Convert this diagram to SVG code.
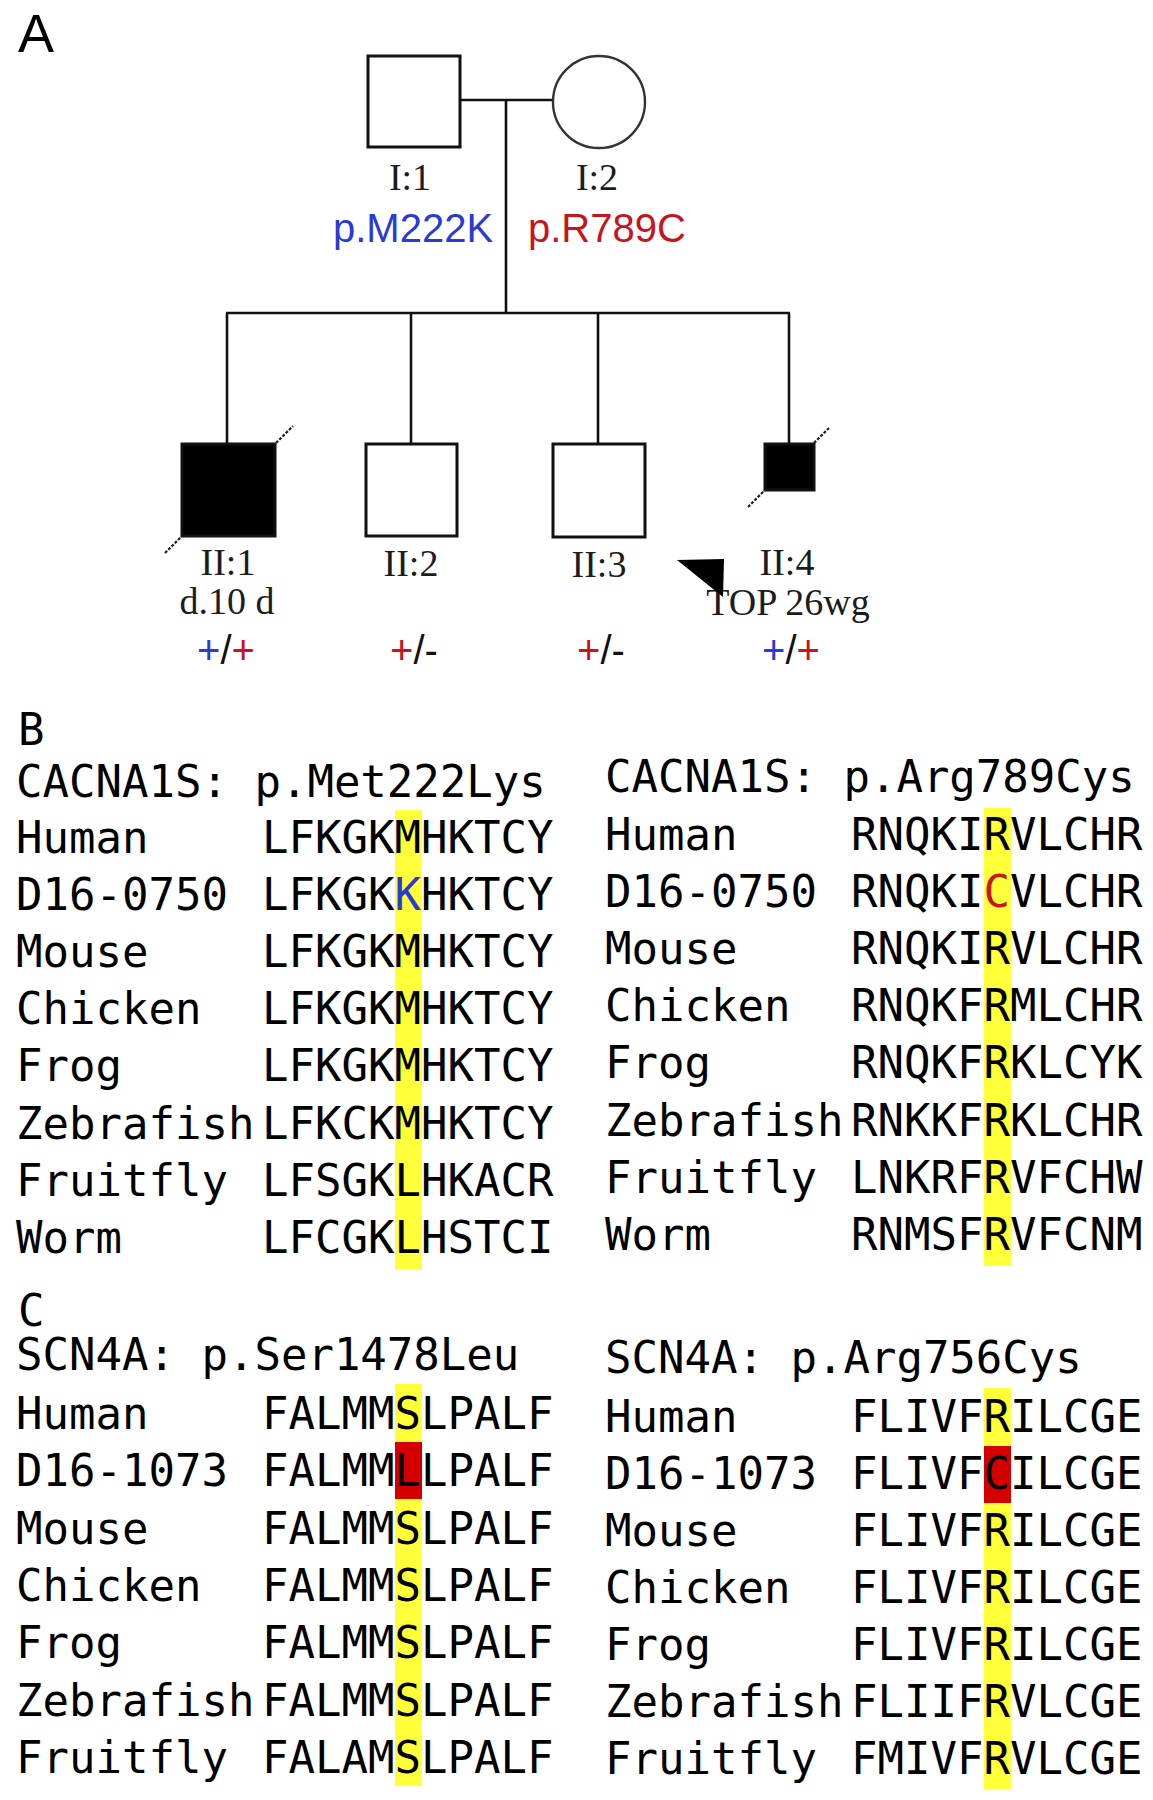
<svg xmlns="http://www.w3.org/2000/svg" width="1153" height="1800" viewBox="0 0 1153 1800">
<style>
.ln{stroke:#111;stroke-width:2.6;fill:none}
.sq{fill:#fff;stroke:#111;stroke-width:3}
.aff{fill:#000;stroke:#111;stroke-width:3}
.ci{fill:#fff;stroke:#333;stroke-width:2.4}
.dec{stroke:#222;stroke-width:2.2;stroke-dasharray:3 1.6}
.lab{font-family:"Liberation Serif","Times New Roman",serif;font-size:38px;fill:#1c1c1c;text-anchor:middle}
.mut{font-family:"Liberation Sans",Arial,sans-serif;font-size:40px}
.gt{font-family:"Liberation Sans",Arial,sans-serif;font-size:40px;text-anchor:middle;fill:#111}
.blue{fill:#2a3ad6}
.red{fill:#c8141c}
.mono{font-family:"DejaVu Sans Mono","Liberation Mono",monospace;font-size:44px;fill:#000}
.hl{fill:#ffff3a}
.hr{fill:#d40000}
.panel{font-family:"Liberation Sans",Arial,sans-serif;font-size:54px;fill:#000}
</style>
<rect x="0" y="0" width="1153" height="1800" fill="#fff"/>

<text class="panel" x="18" y="52">A</text>

<g id="connectors">
  <line class="ln" x1="460" y1="100" x2="553" y2="100"/>
  <line class="ln" x1="506" y1="100" x2="506" y2="313"/>
  <line class="ln" x1="226" y1="313" x2="790" y2="313"/>
  <line class="ln" x1="227" y1="313" x2="227" y2="444"/>
  <line class="ln" x1="411" y1="313" x2="411" y2="444"/>
  <line class="ln" x1="598" y1="313" x2="598" y2="444"/>
  <line class="ln" x1="789" y1="313" x2="789" y2="444"/>
</g>

<g id="I1">
  <rect class="sq" x="368" y="56" width="92" height="91"/>
  <text class="lab" x="410" y="190">I:1</text>
  <text class="mut blue" x="333" y="242">p.M222K</text>
</g>
<g id="I2">
  <circle class="ci" cx="599" cy="102" r="46"/>
  <text class="lab" x="597" y="190">I:2</text>
  <text class="mut red" x="528" y="242">p.R789C</text>
</g>

<g id="II1">
  <rect class="aff" x="182" y="444" width="93" height="92"/>
  <line class="dec" x1="165" y1="553" x2="182" y2="536"/>
  <line class="dec" x1="276" y1="443" x2="293" y2="426"/>
  <text class="lab" x="228" y="575">II:1</text>
  <text class="lab" x="227" y="614">d.10 d</text>
  <text class="gt" x="226" y="664"><tspan class="blue">+</tspan>/<tspan class="red">+</tspan></text>
</g>
<g id="II2">
  <rect class="sq" x="366" y="444" width="91" height="92"/>
  <text class="lab" x="411" y="576">II:2</text>
  <text class="gt" x="414" y="664"><tspan class="red">+</tspan>/-</text>
</g>
<g id="II3">
  <rect class="sq" x="553" y="444" width="92" height="93"/>
  <text class="lab" x="599" y="577">II:3</text>
  <text class="gt" x="601" y="664"><tspan class="red">+</tspan>/-</text>
</g>
<g id="II4">
  <rect class="aff" x="765" y="444" width="49" height="46"/>
  <line class="dec" x1="748" y1="507" x2="765" y2="490"/>
  <line class="dec" x1="814" y1="443" x2="829" y2="428"/>
  <text class="lab" x="787" y="575">II:4</text>
  <text class="lab" x="788" y="615">TOP 26wg</text>
  <text class="gt" x="791" y="664"><tspan class="blue">+</tspan>/<tspan class="red">+</tspan></text>
  <polygon points="677,560 724,559 723,597" fill="#000"/>
</g>

<!-- Panel B -->
<g id="panelB">
  <rect class="hl" x="395" y="810" width="27" height="460"/>
  <rect class="hl" x="984" y="808" width="27" height="458"/>
  <text class="mono" x="18" y="745">B</text>
  <g class="mono">
    <text x="16" y="797">CACNA1S: p.Met222Lys</text>
    <text x="16" y="853">Human</text><text x="262" y="853">LFKGKMHKTCY</text>
    <text x="16" y="910">D16-0750</text><text x="262" y="910">LFKGK<tspan class="blue">K</tspan>HKTCY</text>
    <text x="16" y="967">Mouse</text><text x="262" y="967">LFKGKMHKTCY</text>
    <text x="16" y="1024">Chicken</text><text x="262" y="1024">LFKGKMHKTCY</text>
    <text x="16" y="1081">Frog</text><text x="262" y="1081">LFKGKMHKTCY</text>
    <text x="16" y="1139">Zebrafish</text><text x="262" y="1139">LFKCKMHKTCY</text>
    <text x="16" y="1196">Fruitfly</text><text x="262" y="1196">LFSGKLHKACR</text>
    <text x="16" y="1253">Worm</text><text x="262" y="1253">LFCGKLHSTCI</text>

    <text x="605" y="792">CACNA1S: p.Arg789Cys</text>
    <text x="605" y="850">Human</text><text x="851" y="850">RNQKIRVLCHR</text>
    <text x="605" y="907">D16-0750</text><text x="851" y="907">RNQKI<tspan class="red">C</tspan>VLCHR</text>
    <text x="605" y="964">Mouse</text><text x="851" y="964">RNQKIRVLCHR</text>
    <text x="605" y="1021">Chicken</text><text x="851" y="1021">RNQKFRMLCHR</text>
    <text x="605" y="1078">Frog</text><text x="851" y="1078">RNQKFRKLCYK</text>
    <text x="605" y="1136">Zebrafish</text><text x="851" y="1136">RNKKFRKLCHR</text>
    <text x="605" y="1193">Fruitfly</text><text x="851" y="1193">LNKRFRVFCHW</text>
    <text x="605" y="1250">Worm</text><text x="851" y="1250">RNMSFRVFCNM</text>
  </g>
</g>

<!-- Panel C -->
<g id="panelC">
  <rect class="hl" x="395" y="1384" width="27" height="402"/>
  <rect class="hr" x="395" y="1442" width="27" height="57"/>
  <rect class="hl" x="984" y="1388" width="27" height="401"/>
  <rect class="hr" x="984" y="1446" width="27" height="57"/>
  <text class="mono" x="18" y="1326">C</text>
  <g class="mono">
    <text x="16" y="1370">SCN4A: p.Ser1478Leu</text>
    <text x="16" y="1429">Human</text><text x="262" y="1429">FALMMSLPALF</text>
    <text x="16" y="1486">D16-1073</text><text x="262" y="1486">FALMMLLPALF</text>
    <text x="16" y="1544">Mouse</text><text x="262" y="1544">FALMMSLPALF</text>
    <text x="16" y="1601">Chicken</text><text x="262" y="1601">FALMMSLPALF</text>
    <text x="16" y="1658">Frog</text><text x="262" y="1658">FALMMSLPALF</text>
    <text x="16" y="1716">Zebrafish</text><text x="262" y="1716">FALMMSLPALF</text>
    <text x="16" y="1773">Fruitfly</text><text x="262" y="1773">FALAMSLPALF</text>

    <text x="605" y="1373">SCN4A: p.Arg756Cys</text>
    <text x="605" y="1432">Human</text><text x="851" y="1432">FLIVFRILCGE</text>
    <text x="605" y="1489">D16-1073</text><text x="851" y="1489">FLIVFCILCGE</text>
    <text x="605" y="1546">Mouse</text><text x="851" y="1546">FLIVFRILCGE</text>
    <text x="605" y="1603">Chicken</text><text x="851" y="1603">FLIVFRILCGE</text>
    <text x="605" y="1660">Frog</text><text x="851" y="1660">FLIVFRILCGE</text>
    <text x="605" y="1717">Zebrafish</text><text x="851" y="1717">FLIIFRVLCGE</text>
    <text x="605" y="1774">Fruitfly</text><text x="851" y="1774">FMIVFRVLCGE</text>
  </g>
</g>
</svg>
